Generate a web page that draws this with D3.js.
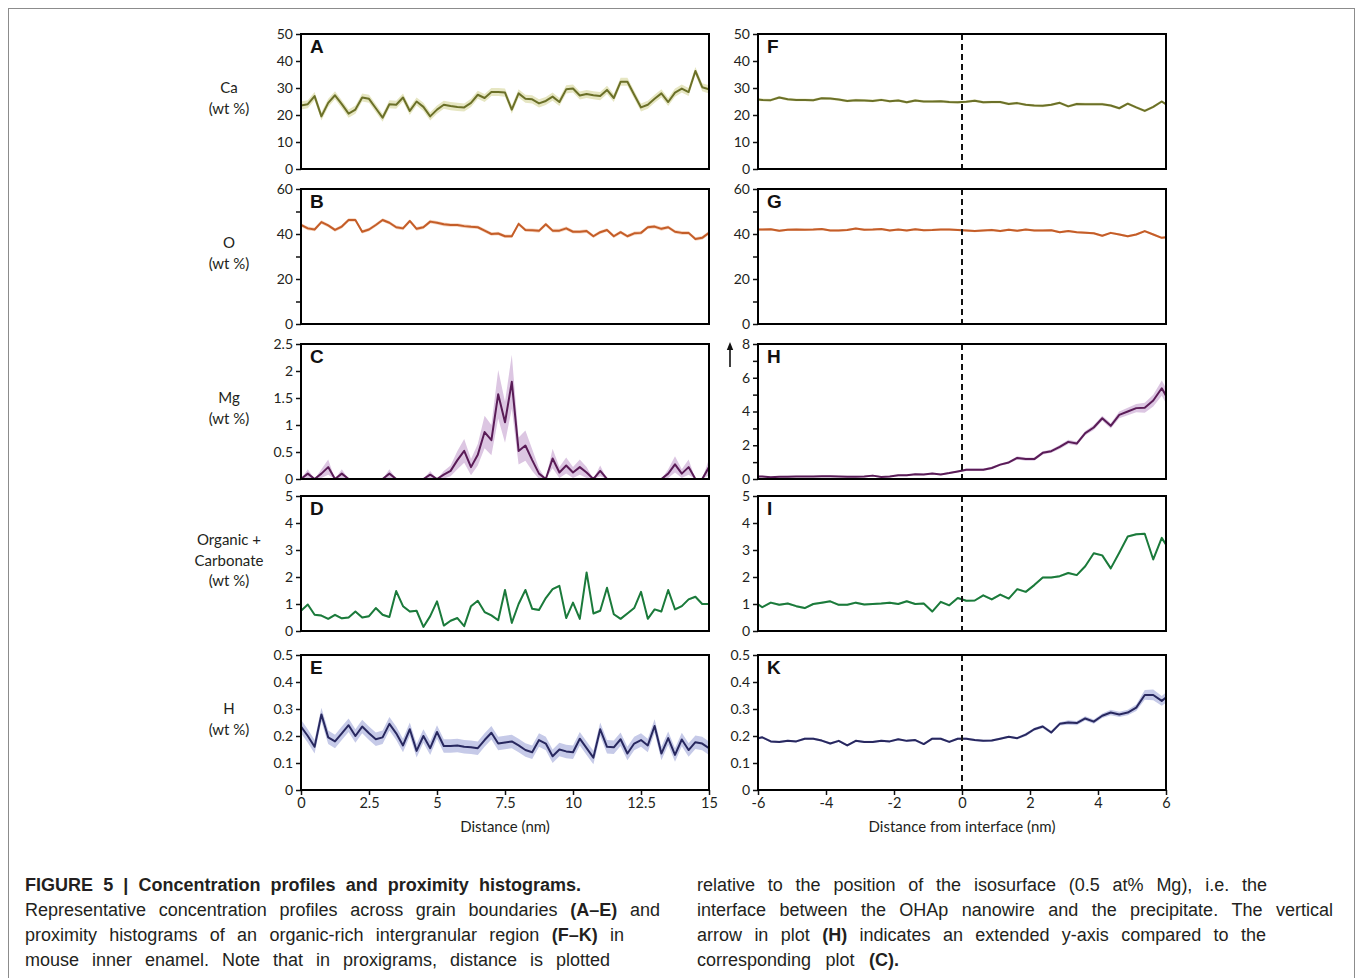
<!DOCTYPE html>
<html>
<head>
<meta charset="utf-8">
<script src="https://cdn.jsdelivr.net/npm/d3@7"></script>
<style>
  body { margin: 0; background: #fff; }
  svg { display: block; }
</style>
</head>
<body>
<svg id="fig" width="1355" height="978"></svg>
<script>
// distance (nm) for the grain boundary profiles A-E
const dist = [0,0.25,0.5,0.75,1,1.25,1.5,1.75,2,2.25,2.5,2.75,3,3.25,3.5,3.75,4,4.25,4.5,4.75,
  5,5.25,5.5,5.75,6,6.25,6.5,6.75,7,7.25,7.5,7.75,8,8.25,8.5,8.75,9,9.25,9.5,9.75,
  10,10.25,10.5,10.75,11,11.25,11.5,11.75,12,12.25,12.5,12.75,13,13.25,13.5,13.75,14,14.25,14.5,14.75,15];
// bin centres (nm) of the proxigrams F-K
const prox = [-6.125,-5.875,-5.625,-5.375,-5.125,-4.875,-4.625,-4.375,-4.125,-3.875,-3.625,-3.375,-3.125,
  -2.875,-2.625,-2.375,-2.125,-1.875,-1.625,-1.375,-1.125,-0.875,-0.625,-0.375,-0.125,
  0.125,0.375,0.625,0.875,1.125,1.375,1.625,1.875,2.125,2.375,2.625,2.875,3.125,3.375,3.625,
  3.875,4.125,4.375,4.625,4.875,5.125,5.375,5.625,5.875,6.125];

// concentration profiles (wt %)
const ca = [23.5,24,27,19.5,24.5,27.3,24,20.5,22,26.5, 26,22.5,19,24,23.8,26.5,21.5,25,23,19.5,
  22,23.8,23.3,23,22.8,24.5,27.5,26.3,28.5,28.5, 28.3,22,28,26,25.8,24.3,25.2,26.8,24.8,29.5,
  29.8,27.2,27.8,27.3,27,29.3,26.3,32.3,32.3,27.5, 22.8,23.8,26,28,24.8,28.3,29.8,28.5,36.3,30.3, 29.5];
const oxy = [44,42.5,42,45.3,43.8,41.8,43.3,46.2,46.2,41, 42,44,46.2,45,43,42.5,45.8,42.3,43,45.5,
  45,44.3,44,44,43.5,43.2,43,41.5,40,40.2, 39,39,44.5,41.8,41.7,41.4,44.3,41.5,41.5,42.5,
  41,41,41.3,39,40.8,41.8,39,40.8,39,40.3, 40.5,43,43.3,42.3,43,41,40.5,40.5,37.8,38.3, 40.5];
const mg = [0,0.1,0,0.1,0.22,0,0.1,0,0,0, 0,0,0,0.1,0,0,0,0,0,0.08,
  0,0.08,0.15,0.35,0.52,0.22,0.45,0.87,0.72,1.57, 1.05,1.8,0.52,0.62,0.35,0.1,0,0.38,0.12,0.25,
  0.12,0.22,0.12,0,0.15,0,0,0,0,0, 0,0,0,0,0.1,0.27,0.1,0.22,0,0, 0.22];
const mgErr = [0,0.08,0,0.08,0.14,0,0.08,0,0,0, 0,0,0,0.08,0,0,0,0,0,0.07,
  0,0.07,0.1,0.17,0.22,0.15,0.2,0.3,0.28,0.45, 0.38,0.5,0.25,0.28,0.2,0.1,0,0.18,0.1,0.15,
  0.1,0.14,0.1,0,0.1,0,0,0,0,0, 0,0,0,0,0.08,0.15,0.08,0.14,0,0, 0.15];
const org = [0.75,0.98,0.6,0.57,0.45,0.6,0.47,0.5,0.72,0.5, 0.55,0.85,0.6,0.52,1.48,0.92,0.72,0.75,0.15,0.55,
  1.1,0.2,0.38,0.48,0.18,0.92,1.12,0.7,0.58,0.4, 1.52,0.3,1.0,1.52,0.82,0.78,1.22,1.55,1.67,0.48,
  1.05,0.45,2.17,0.65,0.75,1.6,0.62,0.45,0.65,0.85, 1.45,0.45,0.8,0.72,1.52,0.8,0.92,1.17,1.27,1.0, 1.0];
const hyd = [0.235,0.2,0.16,0.28,0.195,0.18,0.21,0.24,0.2,0.235, 0.21,0.188,0.195,0.245,0.21,0.165,0.225,0.145,0.2,0.155,
  0.215,0.163,0.163,0.165,0.16,0.158,0.155,0.185,0.212,0.172, 0.176,0.18,0.165,0.148,0.14,0.185,0.172,0.125,0.15,0.143,
  0.14,0.19,0.155,0.12,0.225,0.16,0.158,0.188,0.135,0.172, 0.185,0.165,0.237,0.135,0.192,0.13,0.187,0.148,0.177,0.172, 0.155];

// proxigrams (wt %)
const caP = [25.8,25.6,25.5,26.5,25.8,25.6,25.6,25.5,26.2,26.1, 25.7,25.2,25.5,25.4,25.2,25.6,25.1,25.4,24.7,25.4,
  25,25,25.1,24.8,24.7,24.9,25.3,24.7,24.8,24.8, 24.1,24.4,23.8,23.5,23.4,23.8,24.5,23.2,24.1,24,
  24,24,23.5,22.5,24.2,22.8,21.5,23,25,23];
const oxyP = [42,42,42.1,41.4,41.9,42,41.9,42,42.2,41.6, 41.6,41.8,42.4,41.9,42,42.2,41.6,42,41.6,42.1,
  41.7,41.8,42,42,41.8,41.6,41.3,41.6,41.8,41.3, 41.9,41.4,42,41.6,41.6,41.7,40.8,41.3,40.8,40.6,
  40.3,39.2,40.5,39.8,39,39.8,41.3,39.8,38.3,38.8];
const mgP = [0.15,0.15,0.1,0.13,0.14,0.15,0.15,0.15,0.16,0.16, 0.15,0.14,0.14,0.15,0.2,0.12,0.15,0.22,0.22,0.28,
  0.27,0.32,0.27,0.35,0.45,0.55,0.55,0.55,0.65,0.85, 0.98,1.25,1.18,1.18,1.55,1.65,1.9,2.2,2.1,2.72,
  3.05,3.6,3.15,3.8,4.0,4.2,4.22,4.65,5.38,4.5];
const mgPErr = [0.05,0.05,0.05,0.05,0.05,0.05,0.05,0.05,0.05,0.05, 0.05,0.05,0.05,0.05,0.05,0.05,0.05,0.05,0.05,0.05,
  0.05,0.05,0.05,0.05,0.05,0.07,0.07,0.07,0.07,0.07, 0.07,0.1,0.1,0.1,0.1,0.1,0.12,0.12,0.12,0.12,
  0.15,0.15,0.15,0.2,0.22,0.25,0.3,0.35,0.45,0.45];
const orgP = [1.1,0.88,1.05,0.97,1.02,0.92,0.85,1.0,1.05,1.1, 0.97,0.97,1.05,0.98,1.0,1.02,1.05,1.0,1.1,1.0,
  1.02,0.72,1.08,0.95,1.22,1.12,1.13,1.32,1.17,1.35, 1.2,1.55,1.45,1.7,1.98,1.98,2.03,2.15,2.07,2.4,
  2.88,2.8,2.32,2.9,3.5,3.58,3.6,2.65,3.45,2.95];
const hydP = [0.188,0.195,0.18,0.178,0.182,0.18,0.19,0.19,0.183,0.172, 0.182,0.165,0.182,0.178,0.178,0.182,0.18,0.188,0.182,0.185,
  0.17,0.19,0.19,0.178,0.19,0.19,0.185,0.182,0.183,0.19, 0.197,0.192,0.205,0.225,0.235,0.213,0.245,0.25,0.248,0.265,
  0.253,0.275,0.287,0.28,0.287,0.305,0.352,0.352,0.33,0.355];
const hydPErr = [0.004,0.004,0.004,0.004,0.004,0.004,0.004,0.004,0.004,0.004, 0.004,0.004,0.004,0.004,0.004,0.004,0.004,0.004,0.004,0.004,
  0.004,0.004,0.004,0.004,0.004,0.004,0.004,0.004,0.004,0.004, 0.004,0.004,0.006,0.006,0.006,0.006,0.006,0.008,0.008,0.008,
  0.008,0.008,0.01,0.01,0.01,0.012,0.018,0.02,0.018,0.02];

// ticks
const caTicks = [0,10,20,30,40,50];
const oTicks = [0,10,20,30,40,50,60], oLabels = [0,20,40,60];
const mgTicks = [0,0.5,1,1.5,2,2.5];
const mgPTicks = [0,1,2,3,4,5,6,7,8], mgPLabels = [0,2,4,6,8];
const orgTicks = [0,1,2,3,4,5];
const hTicks = [0,0.1,0.2,0.3,0.4,0.5];
const distTicks = [0,2.5,5,7.5,10,12.5,15];
const proxTicks = [-6,-4,-2,0,2,4,6];

const rowLabels = [["Ca","(wt %)"],["O","(wt %)"],["Mg","(wt %)"],["Organic +","Carbonate","(wt %)"],["H","(wt %)"]];
const letters = [["A","F"],["B","G"],["C","H"],["D","I"],["E","K"]];

const colors = [
  {line:"#6b7028", band:"#e6e6c2"},
  {line:"#c45d28", band:"#f6d3bd"},
  {line:"#5a1c57", band:"#dcc6e2"},
  {line:"#1b7a3b", band:"#c3e2cb"},
  {line:"#28285f", band:"#c6cae8"}
];

const rows = [
  {left:{v:ca, e:1.5}, right:{v:caP, e:0.5}, max:[50,50], ticks:[caTicks,caTicks], labels:[caTicks,caTicks]},
  {left:{v:oxy, e:0.8}, right:{v:oxyP, e:0.5}, max:[60,60], ticks:[oTicks,oTicks], labels:[oLabels,oLabels]},
  {left:{v:mg, e:mgErr}, right:{v:mgP, e:mgPErr}, max:[2.5,8], ticks:[mgTicks,mgPTicks], labels:[mgTicks,mgPLabels]},
  {left:{v:org, e:0.04}, right:{v:orgP, e:0.04}, max:[5,5], ticks:[orgTicks,orgTicks], labels:[orgTicks,orgTicks]},
  {left:{v:hyd, e:0.025}, right:{v:hydP, e:hydPErr}, max:[0.5,0.5], ticks:[hTicks,hTicks], labels:[hTicks,hTicks]}
];

const colX = [301, 758], panelW = 408, panelH = 135;
const tops = [34, 189, 344, 496, 655];
const labelFont = "Lato, 'Noto Sans', sans-serif";

const svg = d3.select("#fig");

svg.append("rect")
  .attr("x", 8.5).attr("y", 8.5).attr("width", 1346).attr("height", 1010)
  .attr("fill", "none").attr("stroke", "#8c8c8c").attr("stroke-width", 1);

svg.append("defs").append("marker")
  .attr("id", "head").attr("viewBox", "0 0 10 10").attr("refX", 5).attr("refY", 5)
  .attr("markerWidth", 5).attr("markerHeight", 5).attr("orient", "auto")
  .append("path").attr("d", "M0,1 L10,5 L0,9 Z").attr("fill", "#111");

const xs = [
  d3.scaleLinear().domain([0, 15]).range([0, panelW]),
  d3.scaleLinear().domain([-6, 6]).range([0, panelW])
];
const xdata = [dist, prox];

rows.forEach((row, r) => {
  // row label at left
  const lab = rowLabels[r];
  const cy = tops[r] + panelH / 2 - 3;
  svg.append("g").selectAll("text").data(lab).join("text")
    .attr("x", 229)
    .attr("y", (d, j) => cy + (j - (lab.length - 1) / 2) * 20.5 + 5)
    .attr("text-anchor", "middle")
    .style("font-family", labelFont).style("font-size", "15px").style("fill", "#231f20")
    .text(d => d);

  [0, 1].forEach(c => {
    const s = c === 0 ? row.left : row.right;
    const x = xs[c];
    const y = d3.scaleLinear().domain([0, row.max[c]]).range([panelH, 0]);
    const g = svg.append("g").attr("transform", `translate(${colX[c]},${tops[r]})`);
    const clipId = `clip${r}${c}`;
    g.append("clipPath").attr("id", clipId)
      .append("rect").attr("width", panelW).attr("height", panelH);

    const pts = s.v.map((v, i) => ({x: xdata[c][i], v: v, e: Array.isArray(s.e) ? s.e[i] : s.e}));
    const plot = g.append("g").attr("clip-path", `url(#${clipId})`);

    plot.append("path").datum(pts)
      .attr("fill", colors[r].band)
      .attr("d", d3.area().x(d => x(d.x)).y0(d => y(d.v - d.e)).y1(d => y(d.v + d.e)));

    plot.append("path").datum(pts)
      .attr("fill", "none").attr("stroke", colors[r].line).attr("stroke-width", 2)
      .attr("stroke-linejoin", "round")
      .attr("d", d3.line().x(d => x(d.x)).y(d => y(d.v)));

    if (c === 1) {
      g.append("line")
        .attr("x1", x(0)).attr("x2", x(0)).attr("y1", 0).attr("y2", panelH)
        .attr("stroke", "#111").attr("stroke-width", 2).attr("stroke-dasharray", "6,4");
    }

    // y axis
    const labels = row.labels[c];
    const ya = g.append("g")
      .call(d3.axisLeft(y).tickValues(row.ticks[c]).tickSize(5).tickSizeOuter(0).tickPadding(3)
        .tickFormat(d => labels.includes(d) ? String(d) : ""));
    ya.select(".domain").remove();
    ya.selectAll(".tick line").attr("stroke", "#111").attr("stroke-width", 1.5);
    ya.selectAll(".tick text").style("font-family", labelFont).style("font-size", "14px").style("fill", "#231f20");

    // x axis only on the bottom row
    if (r === rows.length - 1) {
      const xa = g.append("g").attr("transform", `translate(0,${panelH})`)
        .call(d3.axisBottom(x).tickValues(c === 0 ? distTicks : proxTicks).tickSize(5).tickSizeOuter(0).tickPadding(3)
          .tickFormat(d => String(d)));
      xa.select(".domain").remove();
      xa.selectAll(".tick line").attr("stroke", "#111").attr("stroke-width", 1.5);
      xa.selectAll(".tick text").style("font-family", labelFont).style("font-size", "14.5px").style("fill", "#231f20");
      g.append("text")
        .attr("x", panelW / 2).attr("y", panelH + 42)
        .attr("text-anchor", "middle")
        .style("font-family", labelFont).style("font-size", "15px").style("fill", "#231f20")
        .text(c === 0 ? "Distance (nm)" : "Distance from interface (nm)");
    }

    g.append("rect")
      .attr("width", panelW).attr("height", panelH)
      .attr("fill", "none").attr("stroke", "#000").attr("stroke-width", 2);

    g.append("text")
      .attr("x", 9).attr("y", 19)
      .style("font-family", "'Liberation Sans', Arial, sans-serif")
      .style("font-weight", "bold").style("font-size", "19px").style("fill", "#111")
      .text(letters[r][c]);

    // arrow marking the extended y-axis of H
    if (r === 2 && c === 1) {
      g.append("line")
        .attr("x1", -28).attr("x2", -28).attr("y1", 23).attr("y2", 2)
        .attr("stroke", "#111").attr("stroke-width", 1.6)
        .attr("marker-end", "url(#head)");
    }
  });
});

// caption, justified word by word
const capLeft = [
  [["FIGURE 5 | Concentration profiles and proximity histograms.", true]],
  [["Representative concentration profiles across grain boundaries", false], ["(A–E)", true], ["and", false]],
  [["proximity histograms of an organic-rich intergranular region", false], ["(F–K)", true], ["in", false]],
  [["mouse inner enamel. Note that in proxigrams, distance is plotted", false]]
];
const capRight = [
  [["relative to the position of the isosurface (0.5 at% Mg), i.e. the", false]],
  [["interface between the OHAp nanowire and the precipitate. The vertical", false]],
  [["arrow in plot", false], ["(H)", true], ["indicates an extended y-axis compared to the", false]],
  [["corresponding plot", false], ["(C).", true]]
];
const capLeftEnds = [581, 660, 624, 610];
const capRightEnds = [1267, 1333, 1266, 899];
const capBase = [891, 916, 941, 966];

function caption(lines, x0, ends) {
  lines.forEach((segs, li) => {
    const words = [];
    segs.forEach(([t, b]) => t.split(" ").forEach(w => words.push({w, b})));
    const g = svg.append("g");
    const nodes = words.map(d => g.append("text")
      .attr("y", capBase[li])
      .style("font-family", "'Liberation Sans Narrow', 'Liberation Sans', Arial, sans-serif")
      .style("font-size", "18px").style("fill", "#231f20")
      .style("font-weight", d.b ? "bold" : "normal")
      .text(d.w));
    const widths = nodes.map(n => n.node().getComputedTextLength());
    const total = d3.sum(widths);
    let gap = (ends[li] - x0 - total) / (words.length - 1);
    let scale = 1;
    if (gap < 4) { scale = (ends[li] - x0 - 4 * (words.length - 1)) / total; gap = 4; }
    let cx = x0;
    nodes.forEach((n, i) => {
      n.attr("x", cx);
      if (scale !== 1) n.attr("textLength", widths[i] * scale).attr("lengthAdjust", "spacingAndGlyphs");
      cx += widths[i] * scale + gap;
    });
  });
}
caption(capLeft, 25, capLeftEnds);
caption(capRight, 697, capRightEnds);
</script>
</body>
</html>
